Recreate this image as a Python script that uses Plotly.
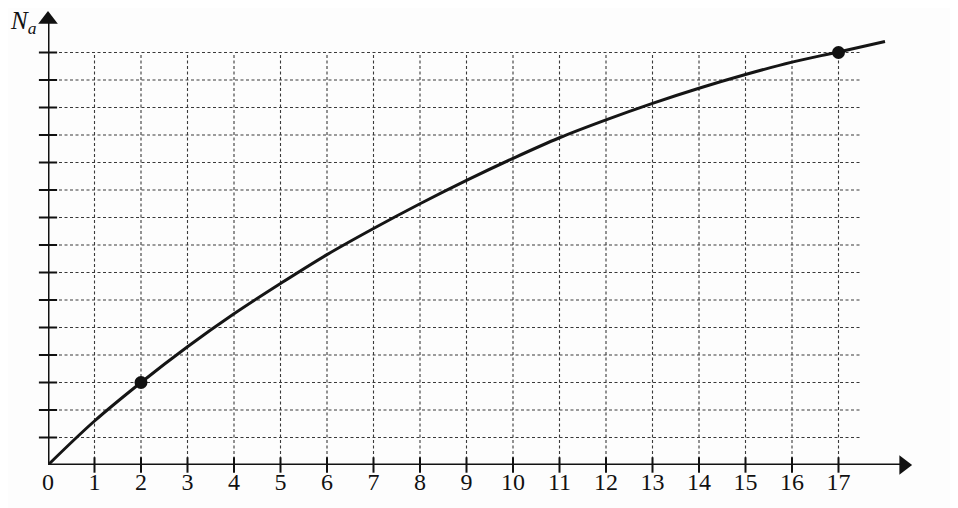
import plotly.graph_objects as go

# ---- data ----
t_values = [0, 1, 2, 3, 4, 5, 6, 7, 8, 9, 10, 11, 12, 13, 14, 15, 16, 17, 18]
n_values = [0, 1.6, 3.0, 4.3, 5.5, 6.6, 7.65, 8.6, 9.5, 10.35, 11.15, 11.9, 12.55, 13.15, 13.7, 14.2, 14.65, 15.02, 15.4]
marked_t = [2, 17]
marked_n = [3, 15]
x_ticks = list(range(0, 18))
x_tick_labels = [str(v) for v in x_ticks]
y_grid = list(range(1, 16))
x_grid = list(range(1, 18))
grid_t_end = 17.5
grid_n_end = 15
x_arrow_end = 18.4
y_arrow_end = 16.2

# page has an 8px body margin -> figure is 950x500
W, H = 950, 500
ml, mr, mt, mb = 40, 20, 2, 43
px_per_t = 46.5
px_per_n = 27.5
plot_w = W - ml - mr
plot_h = H - mt - mb
x_max = plot_w / px_per_t
y_max = plot_h / px_per_n

fig = go.Figure()

grid_color = "#3a3a3a"
dash = "3px,2.5px"
shapes = []
for n in y_grid:
    shapes.append(dict(type="line", xref="x", yref="y", x0=0, x1=grid_t_end, y0=n, y1=n,
                       line=dict(color=grid_color, width=1.1, dash=dash), layer="below"))
for tv in x_grid:
    shapes.append(dict(type="line", xref="x", yref="y", x0=tv, x1=tv, y0=0, y1=grid_n_end,
                       line=dict(color=grid_color, width=1.1, dash=dash), layer="below"))

# axes with arrowheads
fig.add_trace(go.Scatter(x=[0, x_arrow_end], y=[0, 0], mode="lines",
                         line=dict(color="#111", width=3),
                         hoverinfo="skip", showlegend=False, cliponaxis=False))
fig.add_trace(go.Scatter(x=[0, 0], y=[0, y_arrow_end], mode="lines",
                         line=dict(color="#111", width=3),
                         hoverinfo="skip", showlegend=False, cliponaxis=False))
fig.add_trace(go.Scatter(x=[x_arrow_end], y=[0], mode="markers",
                         marker=dict(symbol="triangle-right", size=17, color="#111"),
                         hoverinfo="skip", showlegend=False, cliponaxis=False))
fig.add_trace(go.Scatter(x=[0], y=[y_arrow_end], mode="markers",
                         marker=dict(symbol="triangle-up", size=17, color="#111"),
                         hoverinfo="skip", showlegend=False, cliponaxis=False))

# tick marks crossing the axes
fig.add_trace(go.Scatter(x=x_grid, y=[0] * len(x_grid), mode="markers",
                         marker=dict(symbol="line-ns-open", size=11, color="#111",
                                     line=dict(color="#111", width=2)),
                         hoverinfo="skip", showlegend=False, cliponaxis=False))
fig.add_trace(go.Scatter(x=[0] * len(y_grid), y=y_grid, mode="markers",
                         marker=dict(symbol="line-ew-open", size=13, color="#111",
                                     line=dict(color="#111", width=2)),
                         hoverinfo="skip", showlegend=False, cliponaxis=False))

# curve
fig.add_trace(go.Scatter(x=t_values, y=n_values, mode="lines",
                         line=dict(color="#151515", width=3, shape="spline", smoothing=1.0),
                         hoverinfo="skip", showlegend=False, cliponaxis=False))
fig.add_trace(go.Scatter(x=marked_t, y=marked_n, mode="markers",
                         marker=dict(color="#111", size=13),
                         hoverinfo="skip", showlegend=False, cliponaxis=False))

annotations = [
    dict(x=(31 - ml) / plot_w, y=(mt + plot_h - 14) / plot_h, xref="paper", yref="paper",
         showarrow=False, xanchor="right", yanchor="middle",
         text="<i>N</i><sub><i>a</i></sub>", font=dict(family="Liberation Serif", size=25, color="#111")),
    dict(x=18.6, y=-0.72, xref="x", yref="y", showarrow=False,
         text="<i>t</i> (s)", font=dict(family="Liberation Serif", size=24, color="#111")),
]

fig.update_layout(
    width=W, height=H,
    margin=dict(l=ml, r=mr, t=mt, b=mb),
    paper_bgcolor="#fdfdfd", plot_bgcolor="#fdfdfd",
    shapes=shapes, annotations=annotations,
    xaxis=dict(range=[0, x_max], showgrid=False, zeroline=False, showline=False,
               tickmode="array", tickvals=x_ticks, ticktext=x_tick_labels,
               ticks="", tickfont=dict(family="Liberation Serif", size=24, color="#111"),
               fixedrange=True),
    yaxis=dict(range=[0, y_max], showgrid=False, zeroline=False, showline=False,
               showticklabels=False, ticks="", fixedrange=True),
)

fig.write_html("out.html")
